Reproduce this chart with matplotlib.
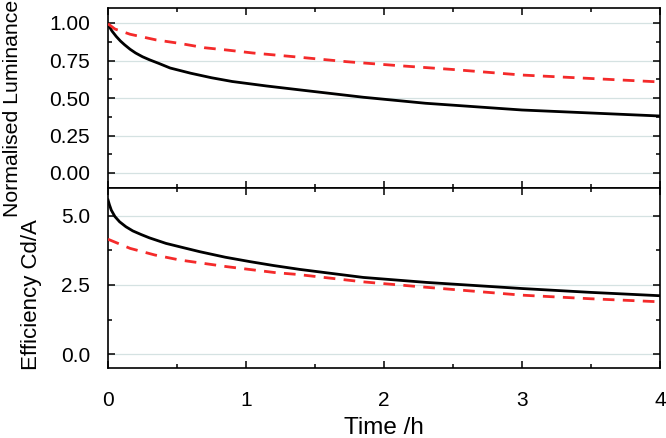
import numpy as np
import matplotlib
matplotlib.use("Agg")
import matplotlib.pyplot as plt
from matplotlib.ticker import MultipleLocator

plt.rcParams['font.family'] = ['Liberation Sans', 'DejaVu Sans']

# Luminance (normalised) vs time
t_lum_black = [0, 0.01, 0.03, 0.06, 0.09, 0.12, 0.16, 0.2, 0.25, 0.3, 0.37, 0.45, 0.6, 0.75,
               0.9, 1.15, 1.4, 1.85, 2.3, 3.0, 3.5, 4.0]
lum_black = [0.99, 0.975, 0.945, 0.91, 0.88, 0.855, 0.825, 0.80, 0.775, 0.755, 0.73, 0.70, 0.665,
             0.635, 0.61, 0.58, 0.553, 0.505, 0.465, 0.42, 0.40, 0.38]

t_lum_red = [0, 0.05, 0.16, 0.35, 0.52, 0.7, 0.86, 1.05, 1.35, 1.73, 2.1, 2.5, 3.0, 3.5, 4.0]
lum_red = [0.995, 0.96, 0.925, 0.887, 0.864, 0.835, 0.82, 0.80, 0.775, 0.742, 0.716, 0.69,
           0.653, 0.63, 0.607]

# Efficiency vs time
t_eff_black = [0, 0.01, 0.024, 0.05, 0.084, 0.13, 0.18, 0.24, 0.3, 0.42, 0.55, 0.665, 0.85,
               1.03, 1.2, 1.39, 1.85, 2.31, 3.0, 3.5, 4.0]
eff_black = [5.57, 5.4, 5.2, 4.97, 4.78, 4.6, 4.45, 4.32, 4.2, 4.0, 3.84, 3.7, 3.5,
             3.34, 3.2, 3.06, 2.77, 2.59, 2.37, 2.23, 2.11]

t_eff_red = [0, 0.16, 0.34, 0.52, 0.86, 1.22, 1.37, 1.85, 2.27, 3.0, 3.5, 4.0]
eff_red = [4.15, 3.82, 3.58, 3.40, 3.16, 2.94, 2.88, 2.61, 2.43, 2.13, 2.0, 1.89]

RED = '#f42a2a'
GRID = '#d5e2e2'

fig = plt.figure(figsize=(6.66, 4.38), dpi=100)
ax1 = fig.add_axes([108 / 666, 1 - 188 / 438, 552 / 666, 180 / 438])
ax2 = fig.add_axes([108 / 666, 1 - 368 / 438, 552 / 666, 180 / 438], sharex=ax1)

ax1.plot(t_lum_black, lum_black, color='black', lw=2.0, zorder=3)
ax1.plot(t_lum_red, lum_red, color=RED, lw=2.0, dashes=(4.2, 3.0), zorder=3)
ax2.plot(t_eff_black, eff_black, color='black', lw=2.0, zorder=3)
ax2.plot(t_eff_red, eff_red, color=RED, lw=2.0, dashes=(4.2, 3.0), zorder=3)

ax1.set_ylim(-0.1, 1.1)
ax1.yaxis.set_minor_locator(MultipleLocator(0.125))
ax1.set_yticks([0, 0.25, 0.5, 0.75, 1.0])
ax1.set_yticklabels(['0.00', '0.25', '0.50', '0.75', '1.00'])

ax2.set_ylim(-0.5, 6.0)
ax2.yaxis.set_minor_locator(MultipleLocator(1.25))
ax2.set_yticks([0, 2.5, 5.0])
ax2.set_yticklabels(['0.0', '2.5', '5.0'])

ax2.set_xlim(0, 4)
ax2.xaxis.set_major_locator(MultipleLocator(1))
ax2.xaxis.set_minor_locator(MultipleLocator(0.5))

for ax in (ax1, ax2):
    ax.grid(axis='y', color=GRID, lw=0.9, zorder=0)
    ax.tick_params(which='both', direction='in', top=True, right=True,
                   width=1.1, labelsize=15)
    ax.tick_params(axis='y', which='both', pad=13)
    ax.tick_params(axis='x', which='both', pad=16.5)
    ax.tick_params(which='major', length=5)
    ax.tick_params(which='minor', length=3)
    for sp in ax.spines.values():
        sp.set_linewidth(1.2)

ax1.tick_params(axis='x', labelbottom=False)

ax1.set_ylabel('Normalised Luminance', fontsize=15.3)
ax2.set_ylabel('Efficiency Cd/A', fontsize=16)
ax1.yaxis.set_label_coords(-0.155, 0.44)
ax2.yaxis.set_label_coords(-0.119, 0.41)
ax2.set_xlabel('Time /h', fontsize=17.5, labelpad=5)

fig.savefig('out.png', dpi=100)
